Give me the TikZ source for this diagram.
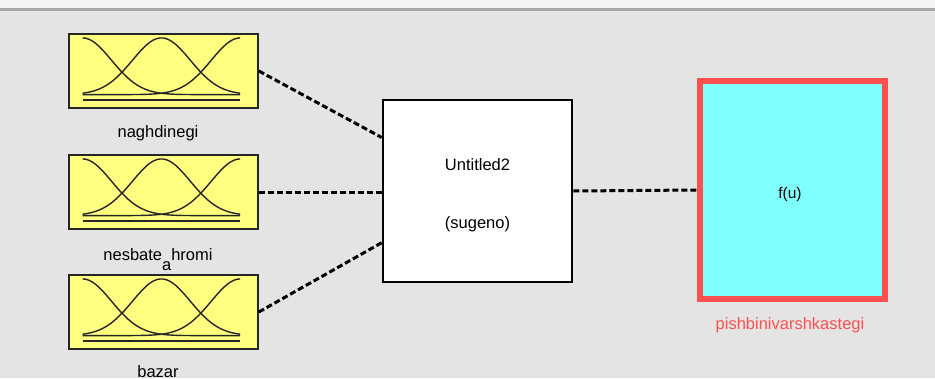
\documentclass[tikz,border=0pt]{standalone}
\usepackage{fontspec}
\setmainfont{Liberation Sans}
\usetikzlibrary{calc}
\definecolor{bg}{HTML}{E4E4E4}
\definecolor{topstrip}{HTML}{F4F4F4}
\definecolor{topline}{HTML}{A8A8A8}
\definecolor{mfyellow}{HTML}{FFFF80}
\definecolor{outcyan}{HTML}{80FFFF}
\definecolor{outred}{HTML}{FF5050}
\tikzset{
  inbox/.style={draw=black!85, line width=1.6pt, fill=mfyellow, minimum width=189pt, minimum height=74pt, inner sep=0pt},
  fisbox/.style={draw=black, line width=2.6pt, fill=white, minimum width=189pt, minimum height=182pt, inner sep=0pt},
  outbox/.style={draw=outred, line width=6.5pt, fill=outcyan, minimum width=185pt, minimum height=218pt, inner sep=0pt},
  lbl/.style={font=\fontsize{16.5}{18}\selectfont, anchor=base, inner sep=0pt},
  conn/.style={line width=3pt, dash pattern=on 6pt off 3pt, black},
  mfcurve/.style={line width=1.4pt, black!85},
}
\newcommand{\mfcurves}[1]{%
  \begin{scope}[shift={(#1.north west)}]
    \draw[mfcurve] plot[domain=0:1, samples=50] ({14.4+157.6*\x}, {61.4-56.7*exp(-(\x)*(\x)/0.0673)});
    \draw[mfcurve] plot[domain=0:1, samples=50] ({14.4+157.6*\x}, {61.4-56.7*exp(-(\x-0.5)*(\x-0.5)/0.0673)});
    \draw[mfcurve] plot[domain=0:1, samples=50] ({14.4+157.6*\x}, {61.4-56.7*exp(-(\x-1)*(\x-1)/0.0673)});
    \draw[mfcurve] (14.4,66.6) -- (172,66.6);
  \end{scope}}
\begin{document}
\begin{tikzpicture}[x=1pt, y=-1pt]
  \useasboundingbox (0,0) rectangle (935,378);
  \fill[bg] (0,0) rectangle (935,378);
  \fill[topstrip] (0,0) rectangle (935,8);
  \fill[topline] (0,8) rectangle (935,11);

  \node[inbox] (in1) at (163.5,71) {};
  \node[inbox] (in2) at (163.5,192) {};
  \node[inbox] (in3) at (163.5,312) {};
  \mfcurves{in1}
  \mfcurves{in2}
  \mfcurves{in3}

  \node[lbl] (l1) at (158,137) {naghdinegi};
  \node[lbl] (l2) at (158,260) {nesbate\raisebox{-1.15ex}{a}hromi};
  \node[lbl] (l3) at (158,377) {bazar};

  \node[fisbox] (fis) at (477.5,191) {};
  \node[lbl] (t1) at (477.5,170) {Untitled2};
  \node[lbl] (t2) at (477.5,228) {(sugeno)};

  \node[outbox] (out) at (792.5,190) {};
  \node[lbl, font=\fontsize{15.5}{18}\selectfont] (t3) at (790,198) {f(u)};
  \node[lbl, text=outred] (l4) at (790,329) {pishbinivarshkastegi};

  \coordinate (fisa) at ($(fis.north west)!0.21!(fis.south west)$);
  \coordinate (fisc) at ($(fis.north west)!0.78!(fis.south west)$);
  \draw[conn] (in1.east) -- (fisa);
  \draw[conn] (in2.east) -- (fis.west |- in2.east);
  \draw[conn] (in3.east) -- (fisc);
  \draw[conn] (fis.east) -- (out.west);
\end{tikzpicture}
\end{document}
